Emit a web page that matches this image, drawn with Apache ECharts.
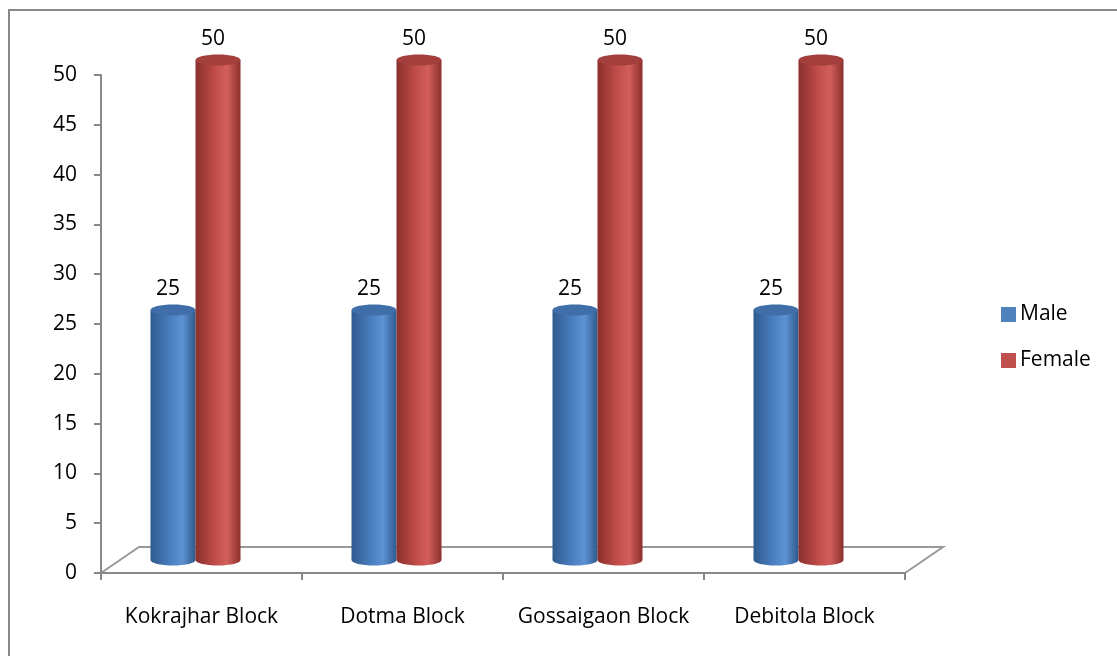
<!DOCTYPE html>
<html>
<head>
<meta charset="utf-8">
<script src="https://cdn.jsdelivr.net/npm/echarts@6/dist/echarts.min.js"></script>
<style>
  html, body { margin: 0; padding: 0; background: #fff; }
  #chart { width: 1117px; height: 656px; }
</style>
</head>
<body>
<div id="chart"></div>
<script>
var categories = ['Kokrajhar Block', 'Dotma Block', 'Gossaigaon Block', 'Debitola Block'];
var maleValues = [25, 25, 25, 25];
var femaleValues = [50, 50, 50, 50];
var yTicks = [0, 5, 10, 15, 20, 25, 30, 35, 40, 45, 50];

var FONT = '"Open Sans", "Noto Sans", sans-serif';
var FS = 21;
var BAR_W = 45;

// 圆柱的渐变色
function sideGradient(dark, mid, light) {
  return new echarts.graphic.LinearGradient(0, 0, 1, 0, [
    { offset: 0, color: dark },
    { offset: 0.45, color: mid },
    { offset: 0.7, color: light },
    { offset: 1, color: dark }
  ]);
}

function cylinder(colors, side) {
  return function (params, api) {
    var i = api.value(0);
    var v = api.value(1);
    var top = api.coord([i, v]);
    var base = api.coord([i, 0]);
    var cx = top[0] + side * BAR_W / 2;
    var x0 = cx - BAR_W / 2;
    var ry = 5.5;
    return {
      type: 'group',
      children: [
        {
          type: 'ellipse',
          shape: { cx: cx, cy: base[1], rx: BAR_W / 2, ry: ry },
          style: { fill: sideGradient(colors[0], colors[1], colors[2]) }
        },
        {
          type: 'rect',
          shape: { x: x0, y: top[1], width: BAR_W, height: base[1] - top[1] },
          style: { fill: sideGradient(colors[0], colors[1], colors[2]) }
        },
        {
          type: 'ellipse',
          shape: { cx: cx, cy: top[1], rx: BAR_W / 2, ry: ry },
          style: { fill: colors[3] }
        },
        {
          type: 'text',
          style: {
            text: String(v),
            x: cx - 5,
            y: top[1] - 21,
            align: 'center',
            verticalAlign: 'middle',
            fontSize: FS,
            fontFamily: FONT,
            fill: '#000'
          }
        }
      ]
    };
  };
}

var maleColors = ['#2f5a8e', '#4a7fc0', '#5d93d4', '#3f6ea8'];
var femaleColors = ['#8a2f2d', '#c24d4a', '#d35f5c', '#a33f3c'];

var option = {
  animation: false,
  backgroundColor: '#fff',
  legend: {
    orient: 'vertical',
    left: 996,
    top: 299,
    icon: 'rect',
    itemWidth: 15,
    itemHeight: 15,
    itemGap: 25,
    textStyle: { fontSize: FS, lineHeight: 15, fontFamily: FONT, color: '#000', padding: [0, 0, 0, -1] },
    data: [
      { name: 'Male', itemStyle: { color: '#4f81bd' } },
      { name: 'Female', itemStyle: { color: '#c0504d' } }
    ]
  },
  grid: [
    { left: 101, right: 212, top: 75, bottom: 83 },
    { left: 95, right: 218, top: 60, bottom: 96 }
  ],
  xAxis: [
    {
      type: 'category',
      gridIndex: 0,
      data: categories,
      axisLine: { lineStyle: { color: '#888', width: 2 } },
      axisTick: { show: true, length: 7, lineStyle: { color: '#888', width: 2 } },
      axisLabel: { interval: 0, fontSize: FS, fontFamily: FONT, color: '#000', margin: 34 }
    },
    {
      type: 'category',
      gridIndex: 1,
      data: categories,
      show: false
    }
  ],
  yAxis: [
    {
      type: 'value',
      gridIndex: 0,
      min: 0,
      max: 50,
      interval: 5,
      splitLine: { show: false },
      axisLine: { show: true, lineStyle: { color: '#888', width: 2 } },
      axisTick: { show: true, length: 7, lineStyle: { color: '#888', width: 2 } },
      axisLabel: { fontSize: FS, fontFamily: FONT, color: '#000', margin: 24 }
    },
    {
      type: 'value',
      gridIndex: 1,
      min: 0,
      max: 50,
      show: false
    }
  ],
  graphic: [
    {
      type: 'rect',
      shape: { x: 9, y: 10, width: 1200, height: 700 },
      style: { fill: 'none', stroke: '#888', lineWidth: 2 },
      z: 10
    },
    {
      type: 'polyline',
      shape: { points: [[101, 573], [139, 547], [943, 547], [905, 573]] },
      style: { fill: 'none', stroke: '#999', lineWidth: 2 },
      z: 0
    }
  ],
  series: [
    {
      name: 'Male',
      type: 'custom',
      xAxisIndex: 1,
      yAxisIndex: 1,
      itemStyle: { color: '#4f81bd' },
      renderItem: cylinder(maleColors, -1),
      data: maleValues.map(function (v, i) { return [i, v]; }),
      z: 5
    },
    {
      name: 'Female',
      type: 'custom',
      xAxisIndex: 1,
      yAxisIndex: 1,
      itemStyle: { color: '#c0504d' },
      renderItem: cylinder(femaleColors, 1),
      data: femaleValues.map(function (v, i) { return [i, v]; }),
      z: 5
    }
  ]
};

var myChart = echarts.init(document.getElementById('chart'));
myChart.setOption(option);
</script>
</body>
</html>
